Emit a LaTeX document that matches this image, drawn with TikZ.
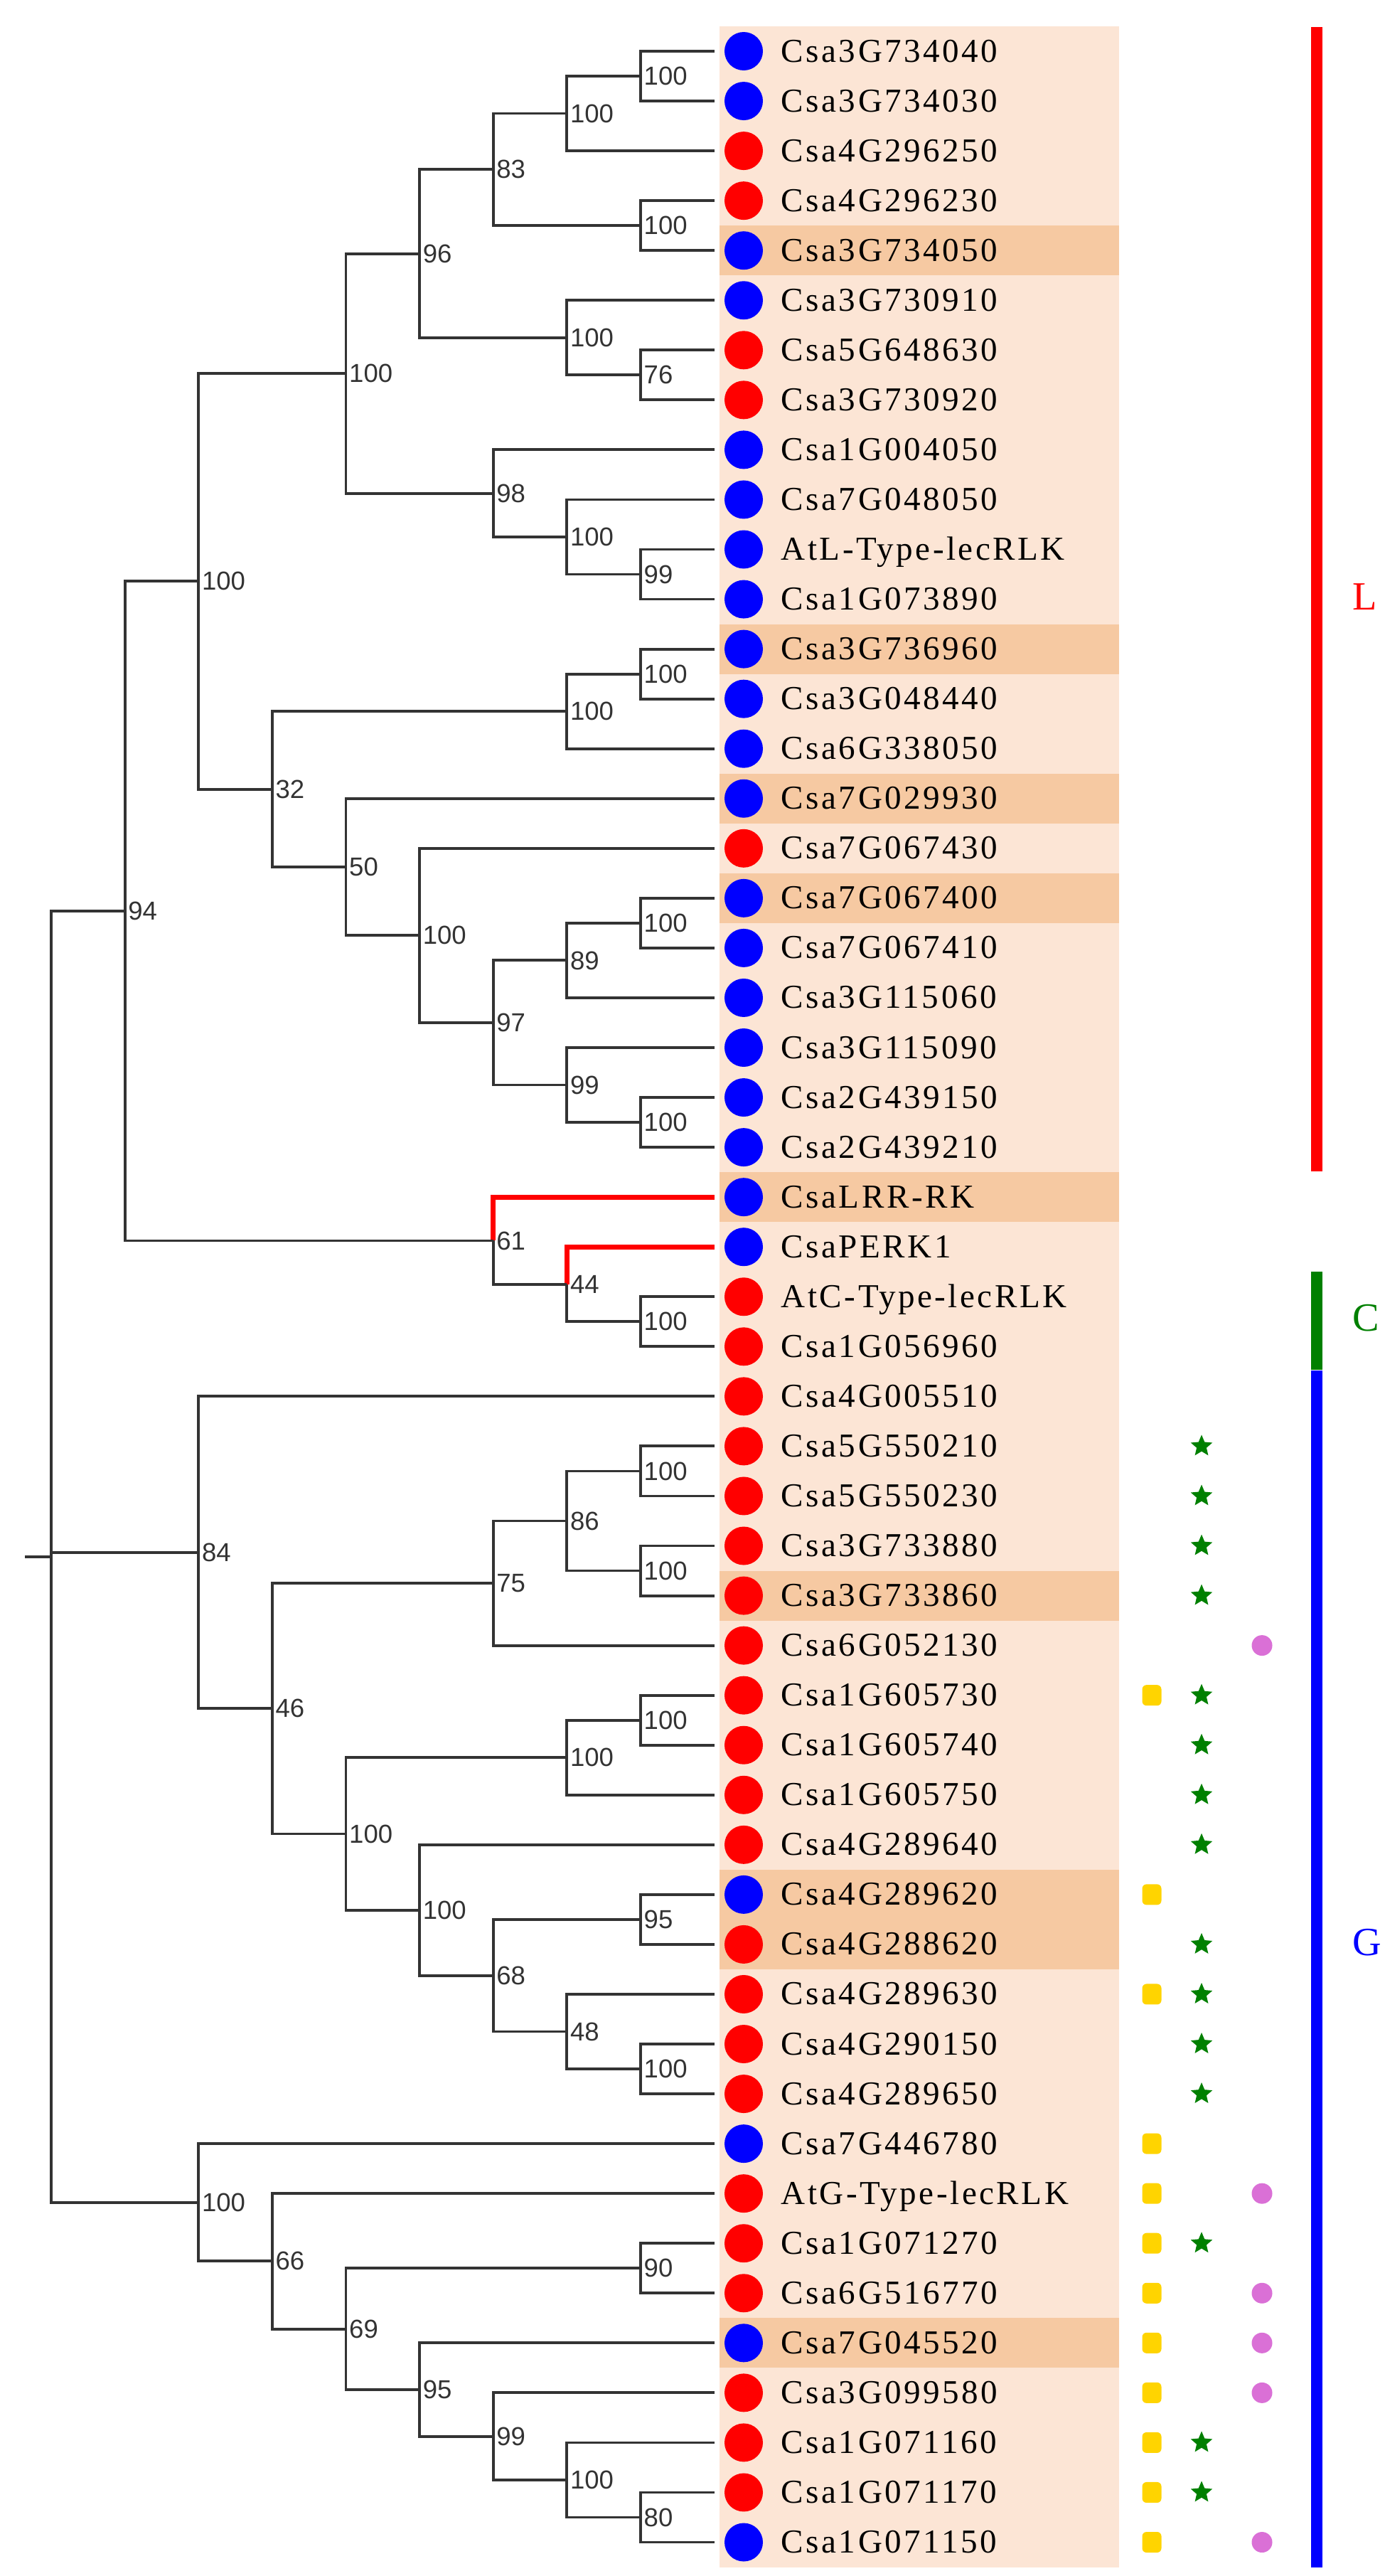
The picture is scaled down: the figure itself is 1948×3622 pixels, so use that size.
\documentclass[tikz,border=0pt]{standalone}
\usepackage{fontspec}
\setmainfont{Liberation Serif}
\newfontfamily\tipfont{Liberation Serif}[LetterSpace=7.5]
\newfontfamily\bsfont{Liberation Sans}
\usetikzlibrary{calc,shapes.geometric}
\definecolor{bgpeach}{HTML}{FCE5D5}
\definecolor{hlpeach}{HTML}{F6C9A2}
\definecolor{dotblue}{HTML}{0000FF}
\definecolor{dotred}{HTML}{FF0000}
\definecolor{mkyellow}{HTML}{FFD400}
\definecolor{mkgreen}{HTML}{008000}
\definecolor{mkviolet}{HTML}{DA70D6}
\definecolor{treegray}{HTML}{333333}
\tikzset{
  branch/.style={draw=treegray, line width=1.1pt},
  hot/.style={draw=red, line width=2pt},
  bs/.style={anchor=west, inner sep=0pt, xshift=0.4mm, text=treegray,
    font=\bsfont\fontsize{10.4}{12}\selectfont},
  tiplabel/.style={anchor=base west, inner sep=0pt,
    font=\tipfont\fontsize{13.4}{16}\selectfont},
  bdot/.style={circle, fill=dotblue, minimum size=5.4mm, inner sep=0pt},
  rdot/.style={circle, fill=dotred, minimum size=5.4mm, inner sep=0pt},
  ymark/.style={rectangle, rounded corners=0.6mm, fill=mkyellow, minimum width=2.7mm, minimum height=2.9mm, inner sep=0pt},
  smark/.style={star, star points=5, star point ratio=2.2, fill=mkgreen, minimum size=3.2mm, inner sep=0pt},
  vmark/.style={circle, fill=mkviolet, minimum size=2.9mm, inner sep=0pt},
  grplabel/.style={anchor=base west, inner sep=0pt, font=\fontsize{16}{19}\selectfont},
}
% clade: name, level coordinate, child1, child2, support, style of edge to child1
\newcommand\clade[6]{%
  \path ($(#3)!0.5!(#4)$) coordinate (#1m);
  \coordinate (#1) at (#2 |- #1m);
  \draw[#6] (#1) |- (#3);
  \draw[branch] (#1) |- (#4);
  \node[bs] (#1l) at (#1) {#5};
}
\begin{document}
\begin{tikzpicture}[x=0.1mm, y=-0.1mm]
\useasboundingbox (0,0) rectangle (1948,3622);
% background column
\fill[bgpeach] (1012,37) rectangle (1574,3610);
\foreach \i in {5,13,16,18,24,32,38,39,47}{
  \pgfmathsetmacro\yy{72+(\i-1)*70.05}
  \fill[hlpeach] (1012,\yy-35) rectangle (1574,\yy+35);
}
% levels
\coordinate (X0) at (72,0);
\coordinate (X1) at (175.6,0);
\coordinate (X2) at (279.3,0);
\coordinate (X3) at (382.9,0);
\coordinate (X4) at (486.5,0);
\coordinate (X5) at (590.1,0);
\coordinate (X6) at (693.7,0);
\coordinate (X7) at (797.3,0);
\coordinate (X8) at (901,0);
% tips
\foreach \i/\name/\dc in {
1/Csa3G734040/bdot, 2/Csa3G734030/bdot, 3/Csa4G296250/rdot, 4/Csa4G296230/rdot,
5/Csa3G734050/bdot, 6/Csa3G730910/bdot, 7/Csa5G648630/rdot, 8/Csa3G730920/rdot,
9/Csa1G004050/bdot, 10/Csa7G048050/bdot, 11/AtL-Type-lecRLK/bdot, 12/Csa1G073890/bdot,
13/Csa3G736960/bdot, 14/Csa3G048440/bdot, 15/Csa6G338050/bdot, 16/Csa7G029930/bdot,
17/Csa7G067430/rdot, 18/Csa7G067400/bdot, 19/Csa7G067410/bdot, 20/Csa3G115060/bdot,
21/Csa3G115090/bdot, 22/Csa2G439150/bdot, 23/Csa2G439210/bdot, 24/CsaLRR-RK/bdot,
25/CsaPERK1/bdot, 26/AtC-Type-lecRLK/rdot, 27/Csa1G056960/rdot, 28/Csa4G005510/rdot,
29/Csa5G550210/rdot, 30/Csa5G550230/rdot, 31/Csa3G733880/rdot, 32/Csa3G733860/rdot,
33/Csa6G052130/rdot, 34/Csa1G605730/rdot, 35/Csa1G605740/rdot, 36/Csa1G605750/rdot,
37/Csa4G289640/rdot, 38/Csa4G289620/bdot, 39/Csa4G288620/rdot, 40/Csa4G289630/rdot,
41/Csa4G290150/rdot, 42/Csa4G289650/rdot, 43/Csa7G446780/bdot, 44/AtG-Type-lecRLK/rdot,
45/Csa1G071270/rdot, 46/Csa6G516770/rdot, 47/Csa7G045520/bdot, 48/Csa3G099580/rdot,
49/Csa1G071160/rdot, 50/Csa1G071170/rdot, 51/Csa1G071150/bdot}{
  \pgfmathsetmacro\yy{72+(\i-1)*70.05}
  \coordinate (t\i) at (1005,\yy);
  \node[\dc] (d\i) at (1046,\yy) {};
  \node[tiplabel] (n\i) at (1098,\yy+15) {\name};
}
% markers
\foreach \i in {34,38,40,43,44,45,46,47,48,49,50,51}{
  \pgfmathsetmacro\yy{72+(\i-1)*70.05}
  \node[ymark] (y\i) at (1620,\yy) {};
}
\foreach \i in {29,30,31,32,34,35,36,37,39,40,41,42,45,49,50}{
  \pgfmathsetmacro\yy{72+(\i-1)*70.05}
  \node[smark] (s\i) at (1690,\yy) {};
}
\foreach \i in {33,44,46,47,48,51}{
  \pgfmathsetmacro\yy{72+(\i-1)*70.05}
  \node[vmark] (v\i) at (1775,\yy) {};
}
% L clade
\clade{a1}{X8}{t1}{t2}{100}{branch}
\clade{a2}{X7}{a1}{t3}{100}{branch}
\clade{a3}{X8}{t4}{t5}{100}{branch}
\clade{a4}{X6}{a2}{a3}{83}{branch}
\clade{a5}{X8}{t7}{t8}{76}{branch}
\clade{a6}{X7}{t6}{a5}{100}{branch}
\clade{a7}{X5}{a4}{a6}{96}{branch}
\clade{a8}{X8}{t11}{t12}{99}{branch}
\clade{a9}{X7}{t10}{a8}{100}{branch}
\clade{a10}{X6}{t9}{a9}{98}{branch}
\clade{a11}{X4}{a7}{a10}{100}{branch}
\clade{b1}{X8}{t13}{t14}{100}{branch}
\clade{b2}{X7}{b1}{t15}{100}{branch}
\clade{b3}{X8}{t18}{t19}{100}{branch}
\clade{b4}{X7}{b3}{t20}{89}{branch}
\clade{b5}{X8}{t22}{t23}{100}{branch}
\clade{b6}{X7}{t21}{b5}{99}{branch}
\clade{b7}{X6}{b4}{b6}{97}{branch}
\clade{b8}{X5}{t17}{b7}{100}{branch}
\clade{b9}{X4}{t16}{b8}{50}{branch}
\clade{b10}{X3}{b2}{b9}{32}{branch}
\clade{c1}{X2}{a11}{b10}{100}{branch}
\clade{d1}{X8}{t26}{t27}{100}{branch}
\clade{d2}{X7}{t25}{d1}{44}{hot}
\clade{d3}{X6}{t24}{d2}{61}{hot}
\clade{e1}{X1}{c1}{d3}{94}{branch}
% G clade, part 1
\clade{g1}{X8}{t29}{t30}{100}{branch}
\clade{g2}{X8}{t31}{t32}{100}{branch}
\clade{g3}{X7}{g1}{g2}{86}{branch}
\clade{g4}{X6}{g3}{t33}{75}{branch}
\clade{g5}{X8}{t34}{t35}{100}{branch}
\clade{g6}{X7}{g5}{t36}{100}{branch}
\clade{g7}{X8}{t38}{t39}{95}{branch}
\clade{g8}{X8}{t41}{t42}{100}{branch}
\clade{g9}{X7}{t40}{g8}{48}{branch}
\clade{g10}{X6}{g7}{g9}{68}{branch}
\clade{g11}{X5}{t37}{g10}{100}{branch}
\clade{g12}{X4}{g6}{g11}{100}{branch}
\clade{g13}{X3}{g4}{g12}{46}{branch}
\clade{g14}{X2}{t28}{g13}{84}{branch}
% G clade, part 2
\clade{h1}{X8}{t45}{t46}{90}{branch}
\clade{h2}{X8}{t50}{t51}{80}{branch}
\clade{h3}{X7}{t49}{h2}{100}{branch}
\clade{h4}{X6}{t48}{h3}{99}{branch}
\clade{h5}{X5}{t47}{h4}{95}{branch}
\clade{h6}{X4}{h1}{h5}{69}{branch}
\clade{h7}{X3}{t44}{h6}{66}{branch}
\clade{h8}{X2}{t43}{h7}{100}{branch}
% root
\path ($(e1)!0.5!(h8)$) coordinate (Rm);
\coordinate (R) at (X0 |- Rm);
\coordinate (Rs) at ($(R)+(-37,0)$);
\draw[branch] (R) |- (e1);
\draw[branch] (R) |- (g14);
\draw[branch] (R) |- (h8);
\draw[branch] (Rs) -- (R);
% group bars
\fill[red] (1844,38) rectangle (1860,1647);
\fill[mkgreen] (1844,1788) rectangle (1860,1926);
\fill[blue] (1844,1927) rectangle (1860,3610);
\node[grplabel, text=red] (labL) at (1902,857) {L};
\node[grplabel, text=mkgreen] (labC) at (1902,1871) {C};
\node[grplabel, text=blue] (labG) at (1902,2749) {G};
\end{tikzpicture}
\end{document}
